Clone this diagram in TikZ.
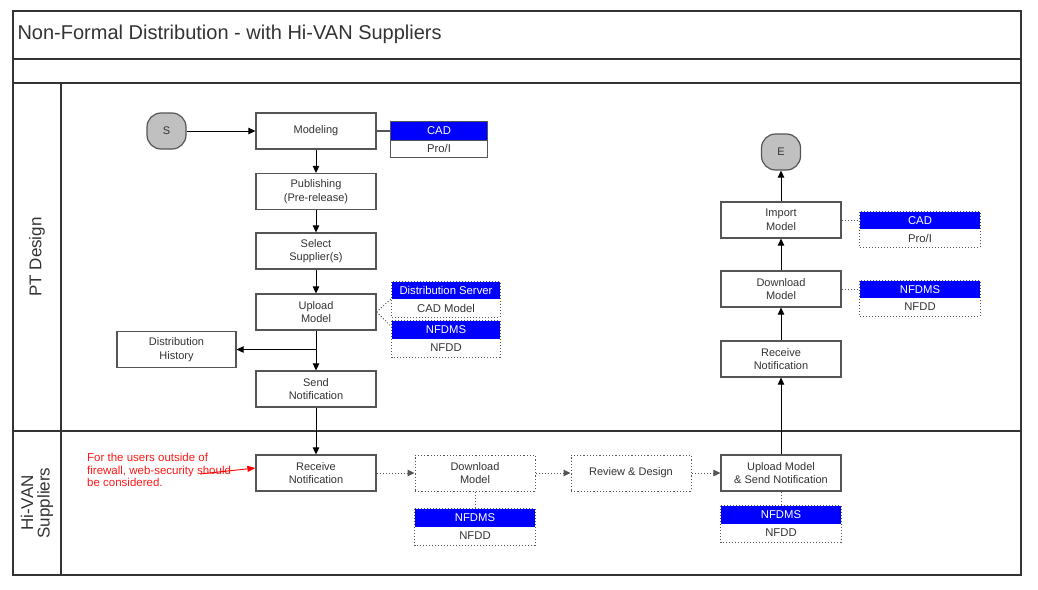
\documentclass[tikz,border=0pt]{standalone}
\usepackage{fontspec}
\setmainfont{Liberation Sans}
\usetikzlibrary{arrows.meta,calc}
\definecolor{lanec}{HTML}{333333}
\definecolor{boxc}{HTML}{555555}
\definecolor{txtc}{HTML}{333333}
\definecolor{termc}{HTML}{C0C0C0}
\definecolor{cellblue}{HTML}{0000FF}
\tikzset{
  lane/.style={draw=lanec,line width=1.4pt},
  proc/.style={draw=boxc,line width=1.2pt,fill=white,minimum width=120pt,minimum height=36pt,inner sep=0pt,align=center,text=txtc,font=\fontsize{11}{13.5}\selectfont},
  dproc/.style={proc,dotted,line width=1pt},
  term/.style={draw=boxc,line width=1.2pt,fill=termc,rounded corners=14pt,minimum width=39pt,minimum height=36pt,inner sep=0pt,text=txtc,font=\fontsize{11}{13.5}\selectfont},
  bcell/.style={fill=cellblue,text=white,inner sep=0pt,font=\fontsize{11.3}{12}\selectfont},
  wcell/.style={fill=white,text=txtc,inner sep=0pt,font=\fontsize{11.3}{12}\selectfont},
  sline/.style={draw=boxc,line width=1.1pt},
  dline/.style={draw=boxc,line width=1pt,dotted},
  arr/.style={draw=black,line width=1pt,-{Triangle[length=7pt,width=6.5pt]}},
  darr/.style={draw=boxc,line width=1pt,dotted,-{Triangle[length=7pt,width=6.5pt]}},
  redarr/.style={draw=red,line width=0.9pt,-{Triangle[length=8pt,width=6pt]}},
}
\begin{document}
\begin{tikzpicture}[x=1pt,y=-1pt]
\useasboundingbox (0,0) rectangle (1038,589);
% frame and lanes
\draw[lane] (13,11) rectangle (1021,575);
\draw[lane] (13,59) -- (1021,59);
\draw[lane] (13,83) -- (1021,83);
\draw[lane] (13,431) -- (1021,431);
\draw[lane] (61,83) -- (61,575);
\node[anchor=west,text=txtc,font=\fontsize{20}{22}\selectfont] (title) at (14,34) {Non-Formal Distribution - with Hi-VAN Suppliers};
\node[rotate=90,text=txtc,font=\fontsize{17}{18}\selectfont] (l1) at (37,257) {PT Design};
\node[rotate=90,text=txtc,align=center,font=\fontsize{17}{16.5}\selectfont] (l2) at (37,503) {Hi-VAN\\Suppliers};

% upper lane
\node[term] (S) at (166.5,131) {S};
\node[proc] (Mod) at (316,131) {Modeling};
\node[proc] (Pub) at (316,191.5) {Publishing\\(Pre-release)};
\node[proc] (Sel) at (316,251) {Select\\Supplier(s)};
\node[proc] (Up) at (316,312) {Upload\\Model};
\node[proc,minimum width=119pt] (DH) at (176.5,349.5) {Distribution\\History};
\node[proc] (Send) at (316,389) {Send\\Notification};

\node[bcell,minimum width=96pt,minimum height=18pt] (CAD1) at (439,131) {CAD};
\node[wcell,minimum width=96pt,minimum height=17pt] (Pro1) at (439,148.5) {Pro/I};
\draw[sline] (CAD1.north west) rectangle (Pro1.south east);
\draw[sline] (CAD1.south west) -- (CAD1.south east);

\node[bcell,minimum width=108pt,minimum height=17pt] (DS) at (446,290.5) {Distribution Server};
\node[wcell,minimum width=108pt,minimum height=18pt] (CADM) at (446,308) {CAD Model};
\node[bcell,minimum width=108pt,minimum height=18pt] (NF1) at (446,330) {NFDMS};
\node[wcell,minimum width=108pt,minimum height=18pt] (ND1) at (446,348) {NFDD};
\draw[dline] (DS.north west) rectangle (CADM.south east);
\draw[dline] (NF1.north west) rectangle (ND1.south east);

\node[term] (E) at (781,152) {E};
\node[proc] (Imp) at (781,220) {Import\\Model};
\node[proc] (DL2) at (781,289) {Download\\Model};
\node[proc] (Rec2) at (781,359) {Receive\\Notification};

\node[bcell,minimum width=120pt,minimum height=17pt] (CAD2) at (920,220.5) {CAD};
\node[wcell,minimum width=120pt,minimum height=18pt] (Pro2) at (920,238) {Pro/I};
\draw[dline] (CAD2.north west) rectangle (Pro2.south east);
\node[bcell,minimum width=120pt,minimum height=17pt] (NF4) at (920,289.5) {NFDMS};
\node[wcell,minimum width=120pt,minimum height=18pt] (ND4) at (920,307) {NFDD};
\draw[dline] (NF4.north west) rectangle (ND4.south east);

% lower lane
\node[proc] (Rec) at (316,473) {Receive\\Notification};
\node[dproc] (DL) at (475,473) {Download\\Model};
\node[dproc] (RD) at (631,473) {Review \& Design};
\node[proc] (US) at (781,473) {Upload Model\\\& Send Notification};

\node[bcell,minimum width=120pt,minimum height=18pt] (NF2) at (475,518) {NFDMS};
\node[wcell,minimum width=120pt,minimum height=18pt] (ND2) at (475,536) {NFDD};
\draw[dline] (NF2.north west) rectangle (ND2.south east);
\node[bcell,minimum width=120pt,minimum height=18pt] (NF3) at (781,515) {NFDMS};
\node[wcell,minimum width=120pt,minimum height=18pt] (ND3) at (781,533) {NFDD};
\draw[dline] (NF3.north west) rectangle (ND3.south east);

\node[anchor=north west,align=left,text=red!90!white,inner sep=0pt,font=\fontsize{11.5}{12.5}\selectfont] (note) at (87,453) {For the users outside of\\firewall, web-security should\\be considered.};
\coordinate (nstart) at (200,474);

% connectors
\draw[arr] (S) -- (Mod);
\draw[arr] (Mod) -- (Pub);
\draw[arr] (Pub) -- (Sel);
\draw[arr] (Sel) -- (Up);
\draw[arr] (Up) -- (Send);
\draw[arr] (Up.south |- DH.east) -- (DH.east);
\draw[arr] (Send) -- (Rec);
\draw[sline] (Mod.east) -- (Mod.east -| CAD1.west);
\draw[dline] (Up.east) -- ($(DS.south west)+(0,-1)$);
\draw[dline] (Up.east) -- ($(NF1.west)+(0,-3)$);

\draw[darr] (Rec) -- (DL);
\draw[darr] (DL) -- (RD);
\draw[darr] (RD) -- (US);
\draw[dline] (DL.south) -- (NF2.north);
\draw[dline] (US.south) -- (NF3.north);

\draw[arr] (US) -- (Rec2);
\draw[arr] (Rec2) -- (DL2);
\draw[arr] (DL2) -- (Imp);
\draw[arr] (Imp) -- (E);
\draw[dline] (Imp.east) -- (Imp.east -| CAD2.west);
\draw[dline] (DL2.east) -- (DL2.east -| NF4.west);

\draw[redarr] (nstart) -- ([yshift=5pt]Rec.west);
\end{tikzpicture}
\end{document}
